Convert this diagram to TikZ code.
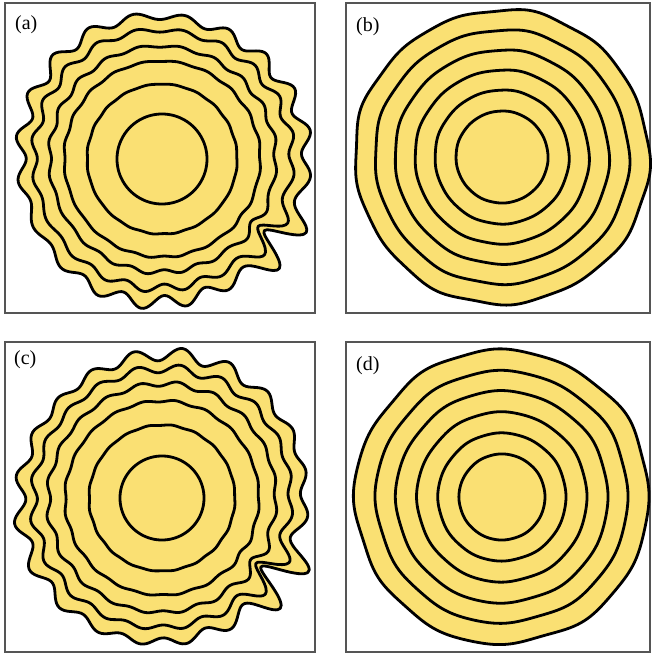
\documentclass[tikz,border=0pt]{standalone}
\usepackage{fontspec}
\setmainfont{Liberation Serif}

\definecolor{sand}{RGB}{250,224,115}
\definecolor{framegray}{RGB}{85,85,85}

\tikzset{
  frame/.style={draw=framegray, line width=1.2pt},
  ring/.style={draw=black, fill=sand, line width=2.8pt, line join=round},
  tag/.style={anchor=north west, inner sep=0pt, font=\fontsize{20}{22}\selectfont},
}

\begin{document}
\begin{tikzpicture}[x=1pt, y=-1pt]
  \useasboundingbox (0,0) rectangle (651,656);

  % panels
  \draw[frame] (5,3) rectangle (315,313);
  \draw[frame] (346,3) rectangle (650,313);
  \draw[frame] (5,342) rectangle (315,652);
  \draw[frame] (346,342) rectangle (650,652);

  % (a) rough fronts: mean radius / wave / spike
  \begin{scope}[shift={(162,159)}]
    \foreach \R/\a/\b in {143/5/20, 129/3/13, 113/1.7/4, 98/0.7/1, 75/0.3/0, 45/0/0}
      \draw[ring] plot[smooth cycle, domain=0:359, samples=360, variable=\t]
        (\t:{\R + \a*(sin(20*\t-70) + 0.35*sin(23*\t+20) + 0.4*sin(3*\t+100))
             + \b*exp(-min(((\t-35)/12)*((\t-35)/12),20))*(sin(20*\t-70)+0.3)});
  \end{scope}

  % (b) smooth fronts
  \begin{scope}[shift={(502,157)}]
    \foreach \R/\a in {147/1.4, 127/0.9, 107/0.6, 87/0.4, 67/0.25, 46/0.1}
      \draw[ring] plot[smooth cycle, domain=0:359, samples=180, variable=\t]
        (\t:{\R + \a*(0.6*sin(13*\t+30) + 0.5*sin(9*\t+80) + 0.6*sin(4*\t+10))});
  \end{scope}

  % (c) rough fronts
  \begin{scope}[shift={(162,498)}]
    \foreach \R/\a/\b in {143/5/20, 129/3.2/13, 114/1.9/4, 97/0.8/1, 73/0.35/0, 42/0/0}
      \draw[ring] plot[smooth cycle, domain=0:359, samples=360, variable=\t]
        (\t:{\R + \a*(sin(20*\t-68) + 0.35*sin(17*\t+60) + 0.4*sin(2*\t+200))
             + \b*exp(-min(((\t-34)/12)*((\t-34)/12),20))*(sin(20*\t-68)+0.3)});
  \end{scope}

  % (d) smooth fronts
  \begin{scope}[shift={(502,497)}]
    \foreach \R/\a in {147/1.4, 126/0.9, 106/0.6, 85/0.4, 64/0.25, 43/0.1}
      \draw[ring] plot[smooth cycle, domain=0:359, samples=180, variable=\t]
        (\t:{\R + \a*(0.6*sin(12*\t+120) + 0.5*sin(8*\t+10) + 0.6*sin(5*\t+250))});
  \end{scope}

  \node[tag] (la) at (15,15) {(a)};
  \node[tag] (lb) at (356,17) {(b)};
  \node[tag] (lc) at (14,350) {(c)};
  \node[tag] (ld) at (356,356) {(d)};
\end{tikzpicture}
\end{document}
